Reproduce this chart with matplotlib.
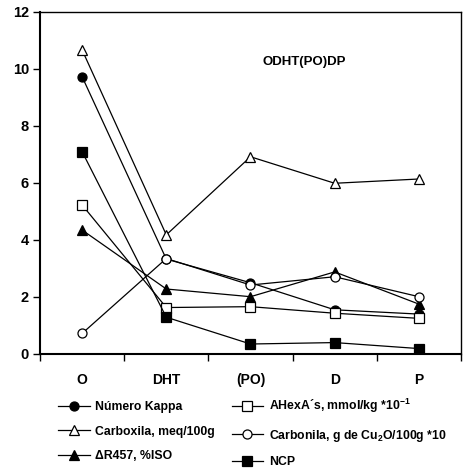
import matplotlib.pyplot as plt

plt.rcParams['font.family'] = ['Liberation Sans', 'DejaVu Sans']
plt.rcParams['font.weight'] = 'bold'
plt.rcParams['mathtext.fontset'] = 'custom'
plt.rcParams['mathtext.rm'] = 'Liberation Sans:bold'
plt.rcParams['mathtext.default'] = 'rm'

stages = ['O', 'DHT', '(PO)', 'D', 'P']

kappa = [9.73, 3.33, 2.50, 1.55, 1.40]
carboxila = [10.67, 4.18, 6.92, 5.99, 6.14]
delta_r457 = [4.35, 2.28, 2.01, 2.88, 1.75]
ahexa = [5.23, 1.63, 1.66, 1.43, 1.25]
carbonila = [0.72, 3.35, 2.42, 2.71, 2.01]
ncp = [7.10, 1.29, 0.35, 0.40, 0.19]

fig = plt.figure(figsize=(4.64, 4.74), dpi=100)
ax = fig.add_axes([0.0862, 0.2532, 0.9073, 0.7215])

x = list(range(len(stages)))
lw = 0.9
series = [
    (kappa, 'o', 'black', 6.5, 'Número Kappa'),
    (carboxila, '^', 'white', 7.5, 'Carboxila, meq/100g'),
    (delta_r457, '^', 'black', 7.5, 'ΔR457, %ISO'),
    (ahexa, 's', 'white', 7.5, 'AHexA´s, mmol/kg *10$^{-1}$'),
    (carbonila, 'o', 'white', 6.5, 'Carbonila, g de Cu$_2$O/100g *10'),
    (ncp, 's', 'black', 7.5, 'NCP'),
]
for vals, m, fc, ms, lab in series:
    ax.plot(x, vals, color='black', lw=lw, marker=m, markerfacecolor=fc,
            markeredgecolor='black', markeredgewidth=0.9, markersize=ms, label=lab)

ax.set_xlim(-0.5, 4.5)
ax.set_ylim(0, 12)
ax.set_yticks(range(0, 13, 2))
ax.set_xticks([i + 0.5 for i in range(-1, 5)])
ax.set_xticklabels([])
ax.set_xticks(x, minor=True)
ax.set_xticklabels(stages, minor=True)
ax.tick_params(axis='x', which='minor', length=0, pad=14, labelsize=10)
ax.tick_params(axis='x', which='major', direction='out', length=5, width=1)
ax.tick_params(axis='y', direction='out', length=5, width=1, labelsize=10.5, pad=3)
for s in ax.spines.values():
    s.set_linewidth(1)
ax.spines['left'].set_linewidth(1.5)
ax.spines['bottom'].set_linewidth(1.5)

ax.text(0.627, 0.854, 'ODHT(PO)DP', transform=ax.transAxes, ha='center', va='center',
        fontsize=9.5, fontweight='bold')

fig.legend(ncol=2, loc='upper left', bbox_to_anchor=(0.125, 0.163), frameon=False,
           fontsize=8.8, handlelength=2.6, handletextpad=0.45, columnspacing=1.35,
           labelspacing=1.03, borderpad=0, borderaxespad=0)

fig.savefig('out.png', dpi=100)
